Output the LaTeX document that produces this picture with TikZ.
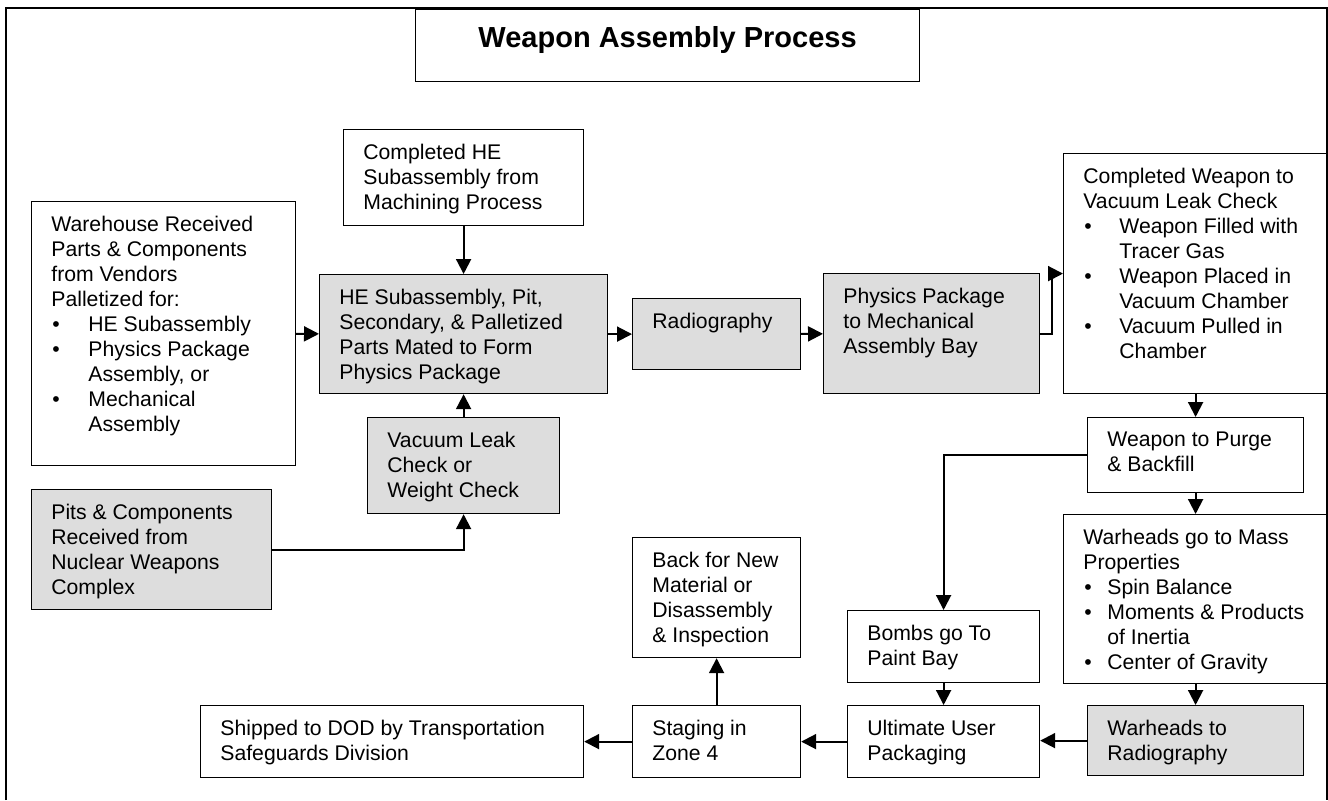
\documentclass[tikz,border=0pt]{standalone}
\usepackage{fontspec}
\setmainfont{Liberation Sans}
\usepackage{tikz}
\usetikzlibrary{arrows.meta}
\definecolor{boxgray}{RGB}{221,221,221}
\newcommand{\bodyfont}{\fontsize{10.6}{12.5}\selectfont}
\newcommand{\titlefont}{\fontsize{14.5}{17}\selectfont\bfseries}
\newcommand{\itm}[2][18.5pt]{\makebox[#1][l]{\hspace{0.5pt}\textbullet}#2}
\newcommand{\cnt}[2][18.5pt]{\hspace*{#1}#2}
\tikzset{
  stepbox/.style={draw, line width=0.6pt, anchor=north west, inner sep=0pt},
  greybox/.style={stepbox, fill=boxgray},
  txt/.style={anchor=north west, inner sep=0pt, xshift=10pt, yshift=-7.4pt, align=left, font=\bodyfont},
  arr/.style={line width=1pt, -{Triangle[length=7.5pt,width=7.5pt]}}
}

\begin{document}
\begin{tikzpicture}[x=0.5pt, y=-0.5pt]
	\useasboundingbox (0,0) rectangle (1328,800);
	\draw[line width=1pt] (6,800) -- (6,8) -- (1327,8) -- (1327,800);

	% title
	\node[stepbox, minimum width=252pt, minimum height=36pt,
		label={[anchor=base, inner sep=0pt, yshift=-19pt, font=\titlefont]north:{Weapon Assembly Process}}] (title) at (415,9) {};

	% left column
	\node[stepbox, minimum width=132pt, minimum height=132pt,
		label={[txt]north west:{Warehouse Received\\Parts \& Components\\from Vendors\\Palletized for:\\\itm{HE Subassembly}\\\itm{Physics Package}\\\cnt{Assembly, or}\\\itm{Mechanical}\\\cnt{Assembly}}}] (wh) at (31,201) {};
	\node[greybox, minimum width=120pt, minimum height=60pt,
		label={[txt]north west:{Pits \& Components\\Received from\\Nuclear Weapons\\Complex}}] (pits) at (31,489) {};

	% middle
	\node[stepbox, minimum width=120pt, minimum height=48pt,
		label={[txt]north west:{Completed HE\\Subassembly from\\Machining Process}}] (che) at (343,129) {};
	\node[greybox, minimum width=144pt, minimum height=59.5pt,
		label={[txt]north west:{HE Subassembly, Pit,\\Secondary, \& Palletized\\Parts Mated to Form\\Physics Package}}] (hesub) at (319,274) {};
	\node[greybox, minimum width=96pt, minimum height=48pt,
		label={[txt]north west:{Vacuum Leak\\Check or\\Weight Check}}] (vac) at (367,417) {};
	\node[greybox, minimum width=84pt, minimum height=35.5pt,
		label={[txt]north west:{Radiography}}] (radio) at (632,298) {};
	\node[greybox, minimum width=108pt, minimum height=60pt,
		label={[txt]north west:{Physics Package\\to Mechanical\\Assembly Bay}}] (phys) at (823,273) {};

	% right column
	\node[stepbox, minimum width=132pt, minimum height=120pt,
		label={[txt]north west:{Completed Weapon to\\Vacuum Leak Check\\\itm[18pt]{Weapon Filled with}\\\cnt[18pt]{Tracer Gas}\\\itm[18pt]{Weapon Placed in}\\\cnt[18pt]{Vacuum Chamber}\\\itm[18pt]{Vacuum Pulled in}\\\cnt[18pt]{Chamber}}}] (cw) at (1063,153) {};
	\node[stepbox, minimum width=108pt, minimum height=37.5pt,
		label={[txt]north west:{Weapon to Purge\\\& Backfill}}] (purge) at (1087,417) {};
	\node[stepbox, minimum width=132pt, minimum height=84.5pt,
		label={[txt]north west:{Warheads go to Mass\\Properties\\\itm[12pt]{Spin Balance}\\\itm[12pt]{Moments \& Products}\\\cnt[12pt]{of Inertia}\\\itm[12pt]{Center of Gravity}}}] (mass) at (1063,514) {};
	\node[greybox, minimum width=108pt, minimum height=35pt,
		label={[txt]north west:{Warheads to\\Radiography}}] (wrad) at (1087,705) {};

	% bottom row
	\node[stepbox, minimum width=96pt, minimum height=36pt,
		label={[txt]north west:{Bombs go To\\Paint Bay}}] (bombs) at (847,610) {};
	\node[stepbox, minimum width=96pt, minimum height=36pt,
		label={[txt]north west:{Ultimate User\\Packaging}}] (ult) at (847,705) {};
	\node[stepbox, minimum width=84pt, minimum height=60pt,
		label={[txt]north west:{Back for New\\Material or\\Disassembly\\\& Inspection}}] (back) at (632,537) {};
	\node[stepbox, minimum width=84pt, minimum height=36pt,
		label={[txt]north west:{Staging in\\Zone 4}}] (stag) at (632,705) {};
	\node[stepbox, minimum width=191.5pt, minimum height=36pt,
		label={[txt]north west:{Shipped to DOD by Transportation\\Safeguards Division}}] (ship) at (200,705) {};

	% connectors
	\draw[arr] (wh) -- (hesub);
	\draw[arr] (che) -- (hesub);
	\draw[arr] (vac) -- (hesub);
	\draw[arr] (pits.east) -| (vac.south);
	\draw[arr] (hesub) -- (radio);
	\draw[arr] (radio) -- (phys);
	\draw[arr] (phys.east) -- ++(12,0) |- (cw.west);
	\draw[arr] (cw) -- (purge);
	\draw[arr] (purge.west) -| (bombs.north);
	\draw[arr] (purge) -- (mass);
	\draw[arr] (mass) -- (wrad);
	\draw[arr] (wrad.west) -- (wrad.west -| ult.east);
	\draw[arr] (bombs) -- (ult);
	\draw[arr] (ult) -- (stag);
	\draw[arr] (stag) -- (ship);
	\draw[arr] (stag) -- (back);
\end{tikzpicture}
\end{document}
